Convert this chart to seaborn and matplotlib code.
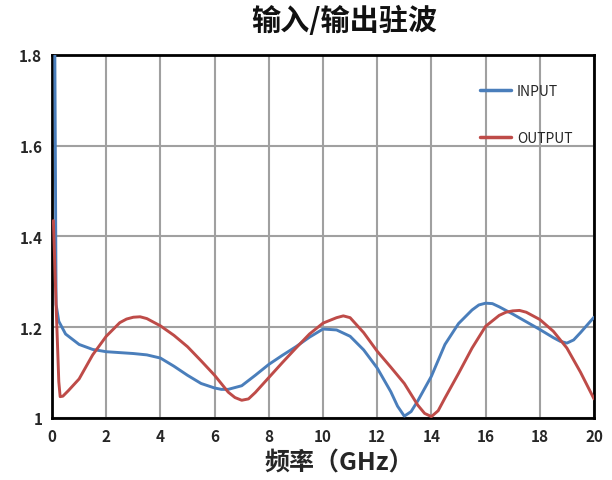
import matplotlib
matplotlib.use("Agg")
import matplotlib.pyplot as plt
from matplotlib.ticker import MultipleLocator, FixedLocator, FixedFormatter
import seaborn as sns
import pandas as pd

# VSWR readings, frequency in GHz
input_freq = [0.1, 0.15, 0.25, 0.5, 1.0, 1.5, 2.0, 2.5, 3.0, 3.5, 4.0, 4.5, 5.0,
              5.5, 6.0, 6.25, 6.5, 7.0, 7.5, 8.0, 8.5, 9.0, 9.5, 10.0, 10.5, 11.0,
              11.5, 12.0, 12.5, 12.75, 13.0, 13.25, 13.5, 14.0, 14.5, 15.0, 15.5,
              15.75, 16.0, 16.25, 16.5, 17.0, 17.5, 18.0, 18.5, 18.75, 19.0, 19.25,
              19.5, 20.0]
input_vswr = [1.85, 1.25, 1.213, 1.185, 1.162, 1.151, 1.146, 1.144, 1.142, 1.139,
              1.132, 1.114, 1.094, 1.076, 1.066, 1.063, 1.063, 1.071, 1.094, 1.118,
              1.138, 1.157, 1.178, 1.196, 1.194, 1.180, 1.150, 1.110, 1.058, 1.026,
              1.004, 1.014, 1.038, 1.092, 1.162, 1.208, 1.238, 1.249, 1.253, 1.252,
              1.245, 1.229, 1.212, 1.195, 1.177, 1.169, 1.165, 1.172, 1.188, 1.222]

output_freq = [0.05, 0.15, 0.25, 0.3, 0.4, 0.6, 1.0, 1.5, 2.0, 2.5, 2.75, 3.0, 3.25,
               3.5, 4.0, 4.5, 5.0, 5.5, 6.0, 6.5, 6.75, 7.0, 7.25, 7.5, 8.0, 8.5,
               9.0, 9.5, 10.0, 10.5, 10.75, 11.0, 11.5, 12.0, 12.5, 13.0, 13.5,
               13.75, 14.0, 14.25, 14.5, 15.0, 15.5, 16.0, 16.5, 16.75, 17.0, 17.25,
               17.5, 18.0, 18.5, 19.0, 19.5, 20.0]
output_vswr = [1.435, 1.25, 1.08, 1.047, 1.048, 1.060, 1.086, 1.139, 1.180, 1.210,
               1.218, 1.222, 1.223, 1.219, 1.203, 1.182, 1.157, 1.126, 1.094, 1.057,
               1.045, 1.039, 1.042, 1.056, 1.089, 1.122, 1.154, 1.185, 1.209, 1.221,
               1.225, 1.221, 1.188, 1.147, 1.112, 1.076, 1.028, 1.010, 1.003, 1.016,
               1.044, 1.098, 1.154, 1.202, 1.226, 1.233, 1.236, 1.237, 1.233, 1.217,
               1.191, 1.154, 1.101, 1.042]

series_names = ["INPUT", "OUTPUT"]
series_colors = ["#4A7EBB", "#BE4B48"]
y_ticks = [1.0, 1.2, 1.4, 1.6, 1.8]
y_tick_labels = ["1", "1.2", "1.4", "1.6", "1.8"]
x_ticks = [0, 2, 4, 6, 8, 10, 12, 14, 16, 18, 20]
title_text = "输入/输出驻波"
xlabel_text = "频率（GHz）"

df = pd.concat([
    pd.DataFrame({"freq": input_freq, "vswr": input_vswr, "port": series_names[0]}),
    pd.DataFrame({"freq": output_freq, "vswr": output_vswr, "port": series_names[1]}),
], ignore_index=True)

sns.set_theme(style="white")
plt.rcParams["font.family"] = ["Noto Sans CJK SC", "DejaVu Sans"]

fig = plt.figure(figsize=(6.12, 4.81), dpi=100)
ax = fig.add_axes([0.085, 0.129, 0.8856, 0.7546])

sns.lineplot(data=df, x="freq", y="vswr", hue="port", palette=series_colors,
             hue_order=series_names, linewidth=2.1, sort=False, ax=ax, zorder=3)
for line in ax.get_lines():
    line.set_solid_joinstyle("round")

ax.set_xlim(0, 20)
ax.set_ylim(1.0, 1.8)
ax.xaxis.set_major_locator(FixedLocator(x_ticks))
ax.xaxis.set_minor_locator(MultipleLocator(1))
ax.yaxis.set_major_locator(FixedLocator(y_ticks))
ax.yaxis.set_major_formatter(FixedFormatter(y_tick_labels))
ax.yaxis.set_minor_locator(MultipleLocator(0.1))

ax.grid(True, which="major", color="#A0A0A0", linewidth=1.5, zorder=1)
ax.set_axisbelow(True)
for s in ax.spines.values():
    s.set_color("black")
    s.set_linewidth(2.0)

ax.tick_params(axis="both", which="major", direction="in", length=0, pad=7,
               labelsize=11)
ax.tick_params(axis="both", which="minor", direction="in", length=4, width=1.5,
               color="black")
for lab in ax.get_xticklabels() + ax.get_yticklabels():
    lab.set_fontweight("bold")

ax.set_xlabel(xlabel_text, fontsize=18, fontweight="bold")
ax.xaxis.set_label_coords(0.53, -0.09)
ax.set_ylabel("")

fig.text(0.562, 0.957, title_text, ha="center", va="center", fontsize=21,
         fontweight="bold", color="#111111")

leg = ax.legend(loc="upper left", bbox_to_anchor=(0.79, 0.92), frameon=False,
                fontsize=10, labelspacing=2.4, handlelength=2.2,
                handletextpad=0.45, borderpad=0, borderaxespad=0)
for line in leg.get_lines():
    line.set_linewidth(2.5)

fig.savefig("out.png", dpi=100)
